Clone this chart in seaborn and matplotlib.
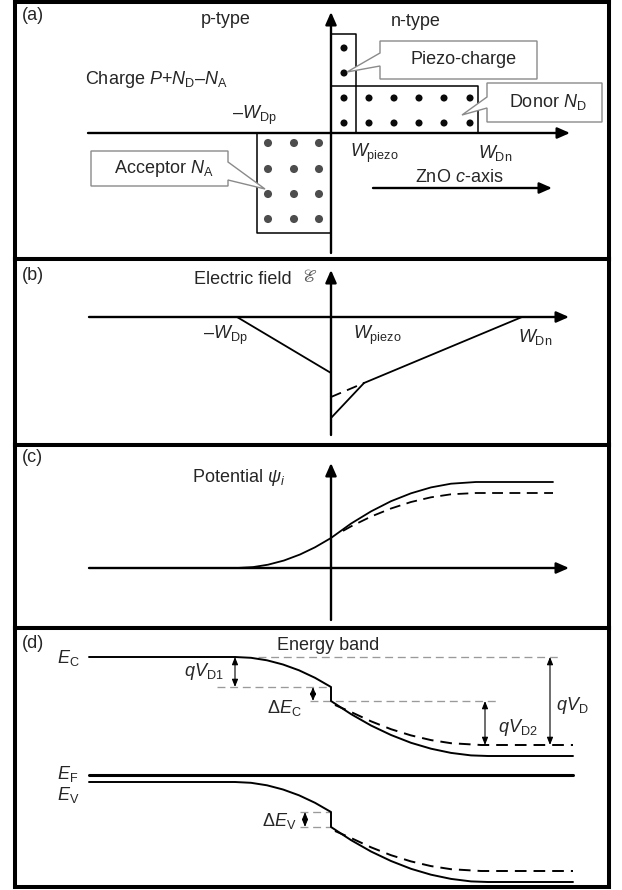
import numpy as np
import pandas as pd
import matplotlib
matplotlib.use("Agg")
import matplotlib.pyplot as plt
import seaborn as sns

sns.set_theme(style="white")
plt.rcParams["font.family"] = ["Liberation Sans", "DejaVu Sans"]
plt.rcParams["mathtext.fontset"] = "custom"
plt.rcParams["mathtext.rm"] = "Liberation Sans"
plt.rcParams["mathtext.it"] = "Liberation Sans:italic"
plt.rcParams["mathtext.bf"] = "Liberation Sans:bold"

# ---------------- data (schematic units, x relative to the junction) ----------------
# (a) charge distribution
charge_axis_x = [-243, 239]
charge_axis_y = [-120, 121]
W_Dp_a, W_piezo_a, W_Dn_a = 74, 25, 147
N_A_level, N_D_level, P_level = -100, 47, 99
acceptor_dot_x = [-63, -37, -12]
acceptor_dot_y = [-10, -36, -61, -86]
donor_dot_x = [38, 63, 88, 113, 139]
donor_dot_y = [35, 10]
piezo_dot_x = [13]
piezo_dot_y = [85, 60, 35, 10]
zno_arrow_x = [42, 221]
zno_arrow_y = -55

# callouts: box (x0, x1, y0, y1), wedge base (y_a, y_b) and tip
callout_piezo = dict(box=(49, 206, 54, 92), base=(67, 80), tip=(16, 61), side="left")
callout_donor = dict(box=(156, 271, 11, 50), base=(25, 36), tip=(131, 18), side="left")
callout_accept = dict(box=(-240, -103, -53, -18), base=(-47, -29), tip=(-66, -56), side="right")

# (b) electric field
field_axis_x = [-242, 238]
field_axis_y = [-118, 47]
field_p_x, field_p_y = [-94, 0], [0, -56]
field_piezo_x, field_piezo_y = [0, 33], [-101, -66]
field_nopiezo_x, field_nopiezo_y = [0, 33], [-80, -66]
field_n_x, field_n_y = [33, 191], [-66, 0]

# (c) potential
pot_axis_x = [-242, 238]
pot_axis_y = [-52, 105]
pot_x = [-94, -78, -63, -47, -31, -16, 0, 20, 40, 60, 80, 100, 120, 145, 222]
pot_y = [0, 0.9, 3.3, 7.5, 13.5, 20.7, 30, 44.4, 56.6, 66.8, 74.7, 80.6, 84.3, 86, 86]
pot_dash_x = [12, 20, 40, 60, 80, 100, 120, 145, 222]
pot_dash_y = [37.1, 41.6, 51.4, 59.5, 66.0, 70.7, 73.7, 75, 75]

# (d) energy band
band_x = [-242, -96, -80, -64, -48, -32, -16, 0, 0, 20, 40, 60, 80, 100, 120, 140, 157, 242]
Ec_y = [118, 118, 117.2, 114.7, 110.5, 104.7, 97.2, 88, 74, 60.9, 49.5, 40.0, 32.2, 26.3, 22.1, 19.6, 19, 19]
Ev_y = [-7, -7, -7.8, -10.3, -14.5, -20.3, -27.8, -37, -52, -65.1, -76.5, -86.0, -93.8, -99.7, -103.9, -106.4, -107, -107]
band_dash_x = [4, 20, 40, 60, 80, 100, 120, 150, 242]
Ec_dash_y = [70, 63.0, 53.7, 45.8, 39.6, 34.9, 31.8, 30, 30]
Ev_dash_y = [-56, -63.0, -72.3, -80.2, -86.4, -91.1, -94.2, -96, -96]
Ef_x, Ef_y = [-242, 242], 0
ref_y = [118, 88, 74, -37, -52]
ref_x0 = [-73, -114, -21, -31, -31]
ref_x1 = [229, 0, 169, 0, 0]
gap_arrow_x = [-96, -18, 154, 219, -26]
gap_arrow_y0 = [118, 88, 74, 118, -37]
gap_arrow_y1 = [88, 74, 30, 30, -52]

# ---------------- layout ----------------
W, H = 622, 890
x_left, x_right, junction = 15, 609, 331
panel_px = [(2, 259, 133), (259, 445, 317), (445, 628, 568), (628, 887, 775)]
FS = 13
DASH = (0, (6, 3.6))
GREY_DASH = (0, (6, 3.6))

fig = plt.figure(figsize=(W / 100, H / 100), dpi=100)
axes = []
for top, bot, base in panel_px:
    ax = fig.add_axes([x_left / W, 1 - bot / H, (x_right - x_left) / W, (bot - top) / H])
    ax.set_xlim(x_left - junction, x_right - junction)
    ax.set_ylim(base - bot, base - top)
    ax.set_xticks([])
    ax.set_yticks([])
    for s in ax.spines.values():
        s.set_color("black")
        s.set_linewidth(2.9)
    ax.set_facecolor("white")
    axes.append(ax)
ax_a, ax_b, ax_c, ax_d = axes


def line(ax, x, y, lw=1.3, color="black", ls="-", z=2):
    sns.lineplot(x=list(x), y=list(y), ax=ax, sort=False, estimator=None,
                 color=color, linewidth=lw, linestyle=ls, legend=False, zorder=z)


def arrow(ax, start, end, lw=1.7):
    ax.annotate("", xy=end, xytext=start,
                arrowprops=dict(arrowstyle="-|>,head_length=0.75,head_width=0.33",
                                color="black", lw=lw, shrinkA=0, shrinkB=0,
                                mutation_scale=10))


def double_arrow(ax, x, y0, y1):
    ax.annotate("", xy=(x, y1), xytext=(x, y0),
                arrowprops=dict(arrowstyle="<|-|>,head_length=0.45,head_width=0.18",
                                color="black", lw=0.8, shrinkA=0, shrinkB=0,
                                mutation_scale=10))


def callout(ax, c, text):
    x0, x1, y0, y1 = c["box"]
    ya, yb = c["base"]
    tx, ty = c["tip"]
    if c["side"] == "left":
        vx = [x0, x1, x1, x0, x0, tx, x0, x0]
        vy = [y1, y1, y0, y0, ya, ty, yb, y1]
    else:
        vx = [x0, x1, x1, tx, x1, x1, x0, x0]
        vy = [y1, y1, yb, ty, ya, y0, y0, y1]
    ax.fill(vx, vy, facecolor="white", edgecolor="#8a8a8a", linewidth=1.0, zorder=4)
    ax.text(x0 + (x1 - x0) * 0.53, (y0 + y1) / 2, text, fontsize=FS, ha="center",
            va="center", zorder=5)


# ---------------- (a) charge ----------------
arrow(ax_a, (charge_axis_x[0], 0), (charge_axis_x[1], 0))
arrow(ax_a, (0, charge_axis_y[0]), (0, charge_axis_y[1]))
line(ax_a, [0, 0, W_piezo_a, W_piezo_a], [0, P_level, P_level, 0], lw=1.1)
line(ax_a, [0, W_Dn_a, W_Dn_a], [N_D_level, N_D_level, 0], lw=1.1)
line(ax_a, [0, -W_Dp_a, -W_Dp_a, 0], [N_A_level, N_A_level, 0, 0], lw=1.1)
gx, gy = np.meshgrid(acceptor_dot_x, acceptor_dot_y)
sns.scatterplot(x=gx.ravel(), y=gy.ravel(), ax=ax_a, s=34, color="#4d4d4d",
                edgecolor="none", legend=False, zorder=3)
gx, gy = np.meshgrid(donor_dot_x, donor_dot_y)
sns.scatterplot(x=gx.ravel(), y=gy.ravel(), ax=ax_a, s=26, color="#0a0a0a",
                edgecolor="none", legend=False, zorder=3)
gx, gy = np.meshgrid(piezo_dot_x, piezo_dot_y)
sns.scatterplot(x=gx.ravel(), y=gy.ravel(), ax=ax_a, s=26, color="#0a0a0a",
                edgecolor="none", legend=False, zorder=3)
arrow(ax_a, (zno_arrow_x[0], zno_arrow_y), (zno_arrow_x[1], zno_arrow_y))
callout(ax_a, callout_piezo, "Piezo-charge")
callout(ax_a, callout_donor, r"Donor $N_{\mathrm{D}}$")
callout(ax_a, callout_accept, r"Acceptor $N_{\mathrm{A}}$")

ax_a.text(-309, 118, "(a)", fontsize=FS, va="center", ha="left")
ax_a.text(-105, 113, "p-type", fontsize=FS, va="center", ha="center")
ax_a.text(85, 112, "n-type", fontsize=FS, va="center", ha="center")
ax_a.text(-246, 53, r"Charge $P$+$N_{\mathrm{D}}$–$N_{\mathrm{A}}$", fontsize=FS, va="center", ha="left")
ax_a.text(-77, 18, r"–$W_{\mathrm{Dp}}$", fontsize=FS, va="center", ha="center")
ax_a.text(19, -20, r"$W_{\mathrm{piezo}}$", fontsize=FS, va="center", ha="left")
ax_a.text(147, -20, r"$W_{\mathrm{Dn}}$", fontsize=FS, va="center", ha="left")
ax_a.text(84, -44, r"ZnO $c$-axis", fontsize=FS, va="center", ha="left")

# ---------------- (b) field ----------------
arrow(ax_b, (field_axis_x[0], 0), (field_axis_x[1], 0))
arrow(ax_b, (0, field_axis_y[0]), (0, field_axis_y[1]))
line(ax_b, field_p_x, field_p_y)
line(ax_b, field_piezo_x, field_piezo_y)
line(ax_b, field_nopiezo_x, field_nopiezo_y, ls=DASH)
line(ax_b, field_n_x, field_n_y)
ax_b.text(-309, 41, "(b)", fontsize=FS, va="center", ha="left")
ax_b.text(-88, 37, "Electric field", fontsize=FS, va="center", ha="center")
ax_b.text(-21, 40, r"$\mathscr{E}$", fontsize=FS, va="center", ha="center",
          math_fontfamily="stix", color="#555555")
ax_b.text(-106, -18, r"–$W_{\mathrm{Dp}}$", fontsize=FS, va="center", ha="center")
ax_b.text(22, -18, r"$W_{\mathrm{piezo}}$", fontsize=FS, va="center", ha="left")
ax_b.text(187, -20, r"$W_{\mathrm{Dn}}$", fontsize=FS, va="center", ha="left")

# ---------------- (c) potential ----------------
arrow(ax_c, (pot_axis_x[0], 0), (pot_axis_x[1], 0))
arrow(ax_c, (0, pot_axis_y[0]), (0, pot_axis_y[1]))
line(ax_c, pot_x, pot_y)
line(ax_c, pot_dash_x, pot_dash_y, ls=DASH)
ax_c.text(-309, 110, "(c)", fontsize=FS, va="center", ha="left")
ax_c.text(-92, 91, r"Potential $\psi_{i}$", fontsize=FS, va="center", ha="center")

# ---------------- (d) energy band ----------------
for y, x0, x1 in zip(ref_y, ref_x0, ref_x1):
    line(ax_d, [x0, x1], [y, y], lw=0.95, color="#9a9a9a", ls=GREY_DASH, z=1)
line(ax_d, band_x, Ec_y, lw=1.4)
line(ax_d, band_x, Ev_y, lw=1.4)
line(ax_d, band_dash_x, Ec_dash_y, lw=1.4, ls=DASH)
line(ax_d, band_dash_x, Ev_dash_y, lw=1.4, ls=DASH)
line(ax_d, Ef_x, [Ef_y, Ef_y], lw=2.2)
for x, y0, y1 in zip(gap_arrow_x, gap_arrow_y0, gap_arrow_y1):
    double_arrow(ax_d, x, y0, y1)
ax_d.text(-309, 132, "(d)", fontsize=FS, va="center", ha="left")
ax_d.text(-3, 130, "Energy band", fontsize=FS, va="center", ha="center")
ax_d.text(-263, 117, r"$E_{\mathrm{C}}$", fontsize=FS, va="center", ha="center")
ax_d.text(-263, 1, r"$E_{\mathrm{F}}$", fontsize=FS, va="center", ha="center")
ax_d.text(-263, -20, r"$E_{\mathrm{V}}$", fontsize=FS, va="center", ha="center")
ax_d.text(-127, 103, r"$qV_{\mathrm{D1}}$", fontsize=FS, va="center", ha="center")
ax_d.text(-47, 67, r"$\Delta E_{\mathrm{C}}$", fontsize=FS, va="center", ha="center")
ax_d.text(187, 48, r"$qV_{\mathrm{D2}}$", fontsize=FS, va="center", ha="center")
ax_d.text(241, 70, r"$qV_{\mathrm{D}}$", fontsize=FS, va="center", ha="center")
ax_d.text(-52, -46, r"$\Delta E_{\mathrm{V}}$", fontsize=FS, va="center", ha="center")

fig.savefig("out.png", dpi=100, facecolor="white")
